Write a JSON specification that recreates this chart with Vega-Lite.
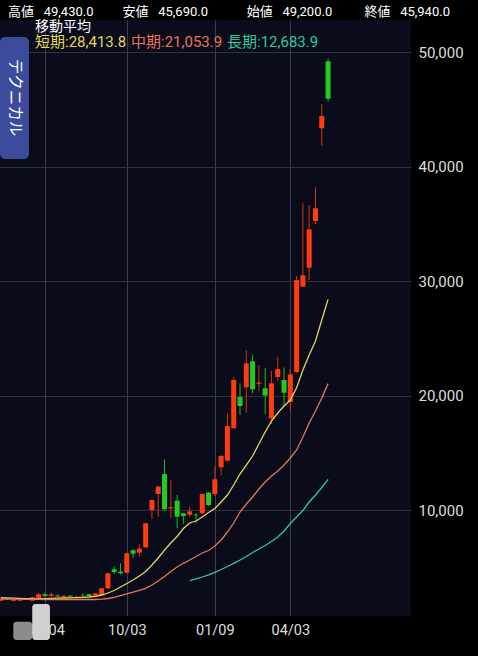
{
  "$schema": "https://vega.github.io/schema/vega-lite/v6.json",
  "width": 411,
  "height": 596,
  "autosize": {"type": "none"},
  "padding": {"left": 0, "top": 20, "right": 67, "bottom": 40},
  "background": "#000000",
  "title": {
    "text": "高値\u00a0\u00a0\u00a049,430.0\u00a0\u00a0\u00a0\u00a0\u00a0\u00a0\u00a0\u00a0\u00a0安値\u00a0\u00a0\u00a045,690.0\u00a0\u00a0\u00a0\u00a0\u00a0\u00a0\u00a0\u00a0\u00a0\u00a0\u00a0\u00a0始値\u00a0\u00a0\u00a049,200.0\u00a0\u00a0\u00a0\u00a0\u00a0\u00a0\u00a0\u00a0\u00a0\u00a0終値\u00a0\u00a0\u00a045,940.0",
    "anchor": "start", "frame": "group", "offset": 3, "dx": 8, "dy": 12, "baseline": "alphabetic",
    "fontSize": 13, "fontWeight": "normal", "color": "#ffffff", "font": "Roboto, Noto Sans CJK JP"
  },
  "config": {
    "view": {"fill": "#0b0c1b", "stroke": null},
    "font": "Roboto, Noto Sans CJK JP"
  },
  "data": {"values": [
    {"date": "2022-05-16", "open": 2096, "high": 2350, "low": 2050, "close": 2306, "短期": 2367, "中期": 2245},
    {"date": "2022-05-23", "open": 2306, "high": 2350, "low": 2180, "close": 2218, "短期": 2341, "中期": 2240},
    {"date": "2022-05-30", "open": 2096, "high": 2260, "low": 2060, "close": 2218, "短期": 2314, "中期": 2235},
    {"date": "2022-06-06", "open": 2100, "high": 2210, "low": 2070, "close": 2170, "短期": 2288, "中期": 2228},
    {"date": "2022-06-13", "open": 2270, "high": 2300, "low": 2150, "close": 2180, "短期": 2271, "中期": 2220},
    {"date": "2022-06-20", "open": 2096, "high": 2420, "low": 2080, "close": 2393, "短期": 2262, "中期": 2212},
    {"date": "2022-06-27", "open": 2306, "high": 2795, "low": 2218, "close": 2655, "短期": 2262, "中期": 2205},
    {"date": "2022-07-04", "open": 2655, "high": 2795, "low": 2400, "close": 2507, "短期": 2280, "中期": 2203},
    {"date": "2022-07-11", "open": 2533, "high": 2800, "low": 2420, "close": 2655, "短期": 2297, "中期": 2201},
    {"date": "2022-07-18", "open": 2550, "high": 2620, "low": 2400, "close": 2463, "短期": 2314, "中期": 2201},
    {"date": "2022-07-25", "open": 2420, "high": 2620, "low": 2390, "close": 2507, "短期": 2330, "中期": 2201},
    {"date": "2022-08-01", "open": 2533, "high": 2580, "low": 2400, "close": 2445, "短期": 2341, "中期": 2201},
    {"date": "2022-08-08", "open": 2445, "high": 2520, "low": 2400, "close": 2460, "短期": 2367, "中期": 2201},
    {"date": "2022-08-15", "open": 2560, "high": 2742, "low": 2445, "close": 2530, "短期": 2393, "中期": 2201},
    {"date": "2022-08-22", "open": 2655, "high": 2700, "low": 2470, "close": 2507, "短期": 2419, "中期": 2201},
    {"date": "2022-08-29", "open": 2533, "high": 2780, "low": 2500, "close": 2742, "短期": 2480, "中期": 2201},
    {"date": "2022-09-05", "open": 2568, "high": 3220, "low": 2540, "close": 3179, "短期": 2594, "中期": 2227},
    {"date": "2022-09-12", "open": 3179, "high": 4541, "low": 3092, "close": 4489, "短期": 2769, "中期": 2288},
    {"date": "2022-09-19", "open": 4838, "high": 5066, "low": 4428, "close": 4602, "短期": 2987, "中期": 2393},
    {"date": "2022-09-26", "open": 4629, "high": 5362, "low": 4402, "close": 4489, "短期": 3293, "中期": 2550},
    {"date": "2022-10-03", "open": 4541, "high": 6306, "low": 4480, "close": 6236, "短期": 3598, "中期": 2699},
    {"date": "2022-10-10", "open": 6498, "high": 6585, "low": 5825, "close": 6201, "短期": 3904, "中期": 2838},
    {"date": "2022-10-17", "open": 6288, "high": 7022, "low": 5939, "close": 6637, "短期": 4253, "中期": 3004},
    {"date": "2022-10-24", "open": 6760, "high": 8908, "low": 6725, "close": 8856, "短期": 4646, "中期": 3179},
    {"date": "2022-10-31", "open": 10018, "high": 10952, "low": 9231, "close": 10891, "短期": 5214, "中期": 3467},
    {"date": "2022-11-07", "open": 11415, "high": 12201, "low": 9432, "close": 12052, "短期": 5825, "中期": 3817},
    {"date": "2022-11-14", "open": 13162, "high": 14445, "low": 10000, "close": 10079, "短期": 6524, "中期": 4210},
    {"date": "2022-11-21", "open": 10150, "high": 12637, "low": 9319, "close": 10250, "短期": 7135, "中期": 4646},
    {"date": "2022-11-28", "open": 10830, "high": 11327, "low": 8419, "close": 9432, "短期": 7703, "中期": 5039},
    {"date": "2022-12-05", "open": 9729, "high": 9755, "low": 8795, "close": 9494, "短期": 8402, "中期": 5362},
    {"date": "2022-12-12", "open": 9607, "high": 10306, "low": 9432, "close": 9904, "短期": 8882, "中期": 5651, "長期": 3860},
    {"date": "2022-12-19", "open": 9615, "high": 9729, "low": 8856, "close": 9560, "短期": 9057, "中期": 5956, "長期": 4009},
    {"date": "2022-12-26", "open": 9729, "high": 11476, "low": 9668, "close": 11415, "短期": 9406, "中期": 6262, "長期": 4166},
    {"date": "2023-01-02", "open": 11528, "high": 11616, "low": 10367, "close": 10454, "短期": 9799, "中期": 6480, "長期": 4358},
    {"date": "2023-01-09", "open": 11415, "high": 13860, "low": 11240, "close": 12699, "短期": 10148, "中期": 6873, "長期": 4576},
    {"date": "2023-01-16", "open": 13747, "high": 14821, "low": 13030, "close": 14733, "短期": 10716, "中期": 7397, "長期": 4821},
    {"date": "2023-01-23", "open": 14323, "high": 18463, "low": 14236, "close": 17354, "短期": 11327, "中期": 8096, "長期": 5083},
    {"date": "2023-01-30", "open": 17153, "high": 21607, "low": 17153, "close": 21371, "短期": 12201, "中期": 8882, "長期": 5362},
    {"date": "2023-02-06", "open": 19887, "high": 21083, "low": 18314, "close": 19100, "短期": 13161, "中期": 9843, "長期": 5651},
    {"date": "2023-02-13", "open": 20733, "high": 23991, "low": 18515, "close": 22829, "短期": 13947, "中期": 10541, "長期": 5956},
    {"date": "2023-02-20", "open": 23004, "high": 23598, "low": 20210, "close": 20559, "短期": 14733, "中期": 11153, "長期": 6306},
    {"date": "2023-02-27", "open": 21050, "high": 22681, "low": 20410, "close": 21150, "短期": 15782, "中期": 11852, "長期": 6611},
    {"date": "2023-03-06", "open": 20646, "high": 22419, "low": 18402, "close": 20017, "短期": 16830, "中期": 12463, "長期": 6917},
    {"date": "2023-03-13", "open": 18026, "high": 22157, "low": 17528, "close": 21083, "短期": 17790, "中期": 12987, "長期": 7266},
    {"date": "2023-03-20", "open": 21633, "high": 23406, "low": 21284, "close": 22332, "短期": 18489, "中期": 13424, "長期": 7659},
    {"date": "2023-03-27", "open": 21371, "high": 22463, "low": 19100, "close": 20262, "短期": 19100, "中期": 13947, "長期": 8183},
    {"date": "2023-04-03", "open": 19450, "high": 22332, "low": 18663, "close": 21869, "短期": 19624, "中期": 14559, "長期": 8838},
    {"date": "2023-04-10", "open": 22070, "high": 30453, "low": 21983, "close": 30104, "短期": 20700, "中期": 15258, "長期": 9406},
    {"date": "2023-04-17", "open": 29520, "high": 36803, "low": 29520, "close": 30515, "短期": 22244, "中期": 16393, "長期": 9974},
    {"date": "2023-04-24", "open": 31179, "high": 36655, "low": 30104, "close": 34533, "短期": 23554, "中期": 17616, "長期": 10716},
    {"date": "2023-05-01", "open": 35257, "high": 38200, "low": 34995, "close": 36366, "短期": 24776, "中期": 18664, "長期": 11327},
    {"date": "2023-05-08", "open": 43354, "high": 45476, "low": 41808, "close": 44428, "短期": 26610, "中期": 19799, "長期": 11983},
    {"date": "2023-05-15", "open": 49200, "high": 49430, "low": 45690, "close": 45940, "短期": 28413.8, "中期": 21053.9, "長期": 12683.9}
  ]},
  "layer": [
    {
      "mark": {"type": "rule", "strokeWidth": 1},
      "encoding": {
        "x": {
          "field": "date", "type": "temporal",
          "scale": {"type": "utc", "nice": false, "padding": 0, "domain": [
            {"year": 2022, "month": 5, "date": 14, "hours": 21, "minutes": 36, "utc": true},
            {"year": 2023, "month": 8, "date": 15, "hours": 7, "minutes": 12, "utc": true}
          ]},
          "axis": {
            "orient": "bottom", "title": null,
            "values": [
              {"year": 2022, "month": 7, "date": 4, "utc": true},
              {"year": 2022, "month": 10, "date": 3, "utc": true},
              {"year": 2023, "month": 1, "date": 9, "utc": true},
              {"year": 2023, "month": 4, "date": 3, "utc": true}
            ],
            "labelExpr": "utcFormat(datum.value, '%m/%d')",
            "labelFlush": false, "labelOverlap": false,
            "ticks": false, "domain": false, "labelPadding": 7,
            "grid": true, "gridColor": "#3a3d4b", "gridWidth": 1,
            "labelColor": "#dedede", "labelFontSize": 14.5, "labelFont": "Roboto"
          }
        },
        "y": {
          "field": "low", "type": "quantitative",
          "scale": {"domain": [760, 52812], "nice": false, "zero": false},
          "axis": {
            "orient": "right", "title": null,
            "values": [10000, 20000, 30000, 40000, 50000],
            "format": ",d", "ticks": false, "domain": false, "labelPadding": 7,
            "grid": true, "gridColor": "#2f3140", "gridWidth": 1,
            "labelColor": "#dedede", "labelFontSize": 15, "labelFont": "Roboto"
          }
        },
        "y2": {"field": "high"},
        "color": {"condition": {"test": "datum.close >= datum.open", "value": "#d0360f"}, "value": "#1db81d"}
      }
    },
    {
      "mark": {"type": "bar", "size": 5},
      "encoding": {
        "x": {"field": "date", "type": "temporal"},
        "y": {"field": "open", "type": "quantitative"},
        "y2": {"field": "close"},
        "color": {"condition": {"test": "datum.close >= datum.open", "value": "#ff3b10"}, "value": "#20cc20"}
      }
    },
    {
      "transform": [
        {"fold": ["短期", "中期", "長期"], "as": ["key", "value"]},
        {"filter": "isValid(datum.value)"}
      ],
      "mark": {"type": "line", "strokeWidth": 1.3},
      "encoding": {
        "x": {"field": "date", "type": "temporal"},
        "y": {"field": "value", "type": "quantitative"},
        "color": {
          "field": "key", "type": "nominal",
          "scale": {"domain": ["短期", "中期", "長期"], "range": ["#e2d65c", "#e8755a", "#2ccb98"]},
          "legend": {
            "orient": "none", "legendX": 35, "legendY": 0, "direction": "horizontal",
            "title": "移動平均", "titleColor": "#ffffff", "titleFontSize": 14, "titleFontWeight": "normal",
            "titleFont": "Noto Sans CJK JP", "titlePadding": 0, "titleBaseline": "top",
            "labelFontSize": 15, "labelFont": "Roboto, Noto Sans CJK JP",
            "symbolSize": 0, "symbolOpacity": 0, "symbolStrokeWidth": 0, "labelOffset": -15,
            "columnPadding": 4, "padding": 0,
            "labelExpr": "datum.label == '短期' ? '短期:28,413.8' : datum.label == '中期' ? '中期:21,053.9' : '長期:12,683.9'",
            "encode": {"labels": {"update": {"fill": {"scale": "color", "field": "value"}}}}
          }
        }
      }
    },
    {
      "data": {"values": [{}]},
      "mark": {"type": "rect", "cornerRadius": 5, "color": "#3c4b9c"},
      "encoding": {
        "x": {"datum": {"year": 2022, "month": 5, "date": 14, "hours": 21, "minutes": 36, "utc": true}, "type": "temporal"},
        "x2": {"datum": {"year": 2022, "month": 6, "date": 16, "hours": 4, "utc": true}},
        "y": {"datum": 51327, "type": "quantitative"},
        "y2": {"datum": 40669}
      }
    },
    {
      "data": {"values": [{}]},
      "mark": {"type": "text", "angle": 90, "align": "center", "baseline": "middle", "fontSize": 15.5, "color": "#ffffff", "font": "Noto Sans CJK JP", "text": "テクニカル"},
      "encoding": {
        "x": {"datum": {"year": 2022, "month": 5, "date": 31, "hours": 14, "utc": true}, "type": "temporal"},
        "y": {"datum": 46044, "type": "quantitative"}
      }
    },
    {
      "data": {"values": [{}]},
      "mark": {"type": "rect", "cornerRadius": 3, "color": "#8c8c8c"},
      "encoding": {
        "x": {"datum": {"year": 2022, "month": 5, "date": 29, "hours": 17, "utc": true}, "type": "temporal"},
        "x2": {"datum": {"year": 2022, "month": 6, "date": 19, "hours": 19, "utc": true}},
        "y": {"datum": 262, "type": "quantitative"},
        "y2": {"datum": -1336}
      }
    },
    {
      "data": {"values": [{}]},
      "mark": {"type": "rect", "cornerRadius": 3, "color": "#d0d0d0"},
      "encoding": {
        "x": {"datum": {"year": 2022, "month": 6, "date": 19, "hours": 19, "utc": true}, "type": "temporal"},
        "x2": {"datum": {"year": 2022, "month": 7, "date": 9, "hours": 12, "utc": true}},
        "y": {"datum": 1808, "type": "quantitative"},
        "y2": {"datum": -1336}
      }
    }
  ]
}
